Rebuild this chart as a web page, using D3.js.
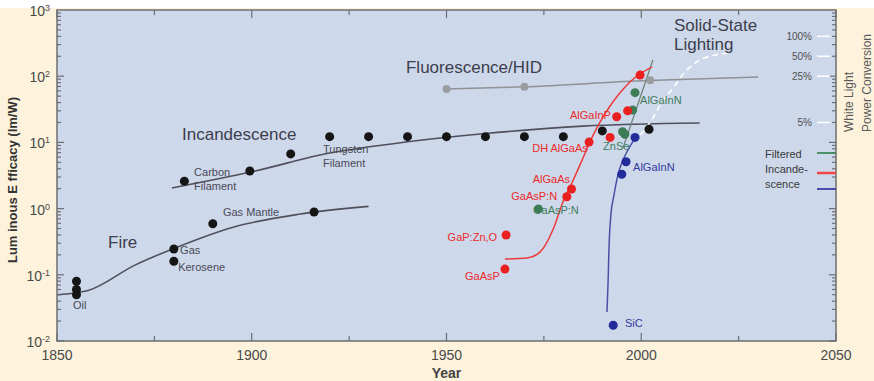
<!DOCTYPE html>
<html>
<head>
<meta charset="utf-8">
<script src="https://cdn.jsdelivr.net/npm/d3@7"></script>
<style>
body { margin: 0; background: #fdf3dc; }
svg { display: block; font-family: "Liberation Sans", Arial, sans-serif; }
</style>
</head>
<body>
<div class="render"></div>
<script>
"use strict";

var width = 874;
var height = 381;

// curves, [year, lm/W]
var fireCurve = [[1850, 0.050], [1858, 0.058], [1870, 0.14], [1880, 0.25], [1895, 0.52], [1912, 0.82], [1930, 1.08]];
var incandCurve = [[1879.5, 2.05], [1900, 3.6], [1920, 6.9], [1940, 10.2], [1960, 13.6], [1985, 17.6], [2015, 19.6]];
var fluorCurve = [[1950, 64], [1970, 69], [2000, 85], [2030, 97]];
var redCurve = [[1965, 0.173], [1970.7, 0.18], [1974, 0.22], [1977.3, 0.475], [1979.9, 1.26], [1982.2, 2.44], [1984.8, 5.4], [1986.8, 10.1], [1989.4, 20.3], [1992, 35.5], [1994.5, 55.7], [1997.1, 81.7], [1999.7, 108], [2002.8, 138]];
var blueCurve = [[1991.2, 0.0274], [1991.5, 0.083], [1991.7, 0.237], [1992.2, 0.80], [1993, 1.6], [1994, 3.2], [1995.3, 5.4], [1996.6, 7.7], [1998.4, 11.6]];
var greenCurve = [[1995.3, 8.2], [2003, 176]];
var whiteProjection = [[1999.7, 12.9], [2003, 23.4], [2005.6, 43.6], [2008.2, 66.4], [2011.2, 115.6], [2015.1, 176], [2019, 209], [2022.3, 224]];

// dots
var blackDots = [[1855, 0.08], [1855, 0.06], [1855, 0.05], [1880, 0.245], [1880, 0.16], [1890, 0.59], [1916, 0.89],
  [1882.7, 2.6], [1899.5, 3.7], [1910, 6.7], [1920, 12.2], [1930, 12.2], [1940, 12.2], [1950, 12.2], [1960, 12.2],
  [1970, 12.2], [1980, 12.2], [1990, 14.9], [2002, 15.8]];
var grayDots = [[1950, 64], [1970, 69], [2002.3, 87]];
var redDots = [[1965, 0.122], [1965.3, 0.40], [1980.9, 1.51], [1982.1, 1.98], [1986.6, 10.1], [1992, 11.9], [1993.7, 24.4], [1996.5, 30], [1999.7, 104]];
var greenDots = [[1973.6, 0.99], [1995.2, 14.5], [1995.8, 13.3], [1997.8, 30.8], [1998.4, 56.4]];
var blueDots = [[1992.8, 0.0173], [1995, 3.3], [1996.1, 5.1], [1998.4, 11.9]];

// era titles and small labels: [text, year, lm/W]
var eraTitles = [["Fire", 1863.1, 0.254], ["Incandescence", 1882.1, 10.9], ["Fluorescence/HID", 1939.6, 112], ["Solid-State", 2008.4, 482], ["Lighting", 2008.4, 249]];
var blackLabels = [["Oil", 1854.1, 0.0304], ["Gas", 1881.6, 0.206], ["Kerosene", 1881.1, 0.114], ["Gas Mantle", 1892.6, 0.773],
  ["Carbon", 1885.2, 3.10], ["Filament", 1885.2, 1.91], ["Tungsten", 1918.3, 6.92], ["Filament", 1918.3, 4.25]];
var redLabelsEnd = [["GaAsP", 1963.7, 0.0834], ["GaP:Zn,O", 1963.0, 0.324], ["GaAsP:N", 1978.4, 1.35], ["AlGaAs", 1981.7, 2.44]];
var redLabels = [["DH AlGaAs", 1972.0, 7.16], ["AlGaInP", 1981.7, 22.6]];
var greenLabels = [["GaAsP:N", 1972.2, 0.828], ["AlGaInN", 1999.7, 38.0], ["ZnSe", 1990.2, 7.67]];
var blueLabels = [["AlGaInN", 1997.9, 3.70], ["SiC", 1995.8, 0.0163]];

var yearTicks = [1850, 1900, 1950, 2000, 2050];
var decadeTicks = [0.01, 0.1, 1, 10, 100, 1000];
var decadeExp = ["-2", "-1", "0", "1", "2", "3"];
var percentTicks = [100, 50, 25, 5];
var legendNames = ["Filtered", "Incande-", "scence"];

var x = d3.scaleLinear().domain([1850, 2050]).range([57, 836]);
var y = d3.scaleLog().domain([0.01, 1000]).range([341, 10]);
// 25% power conversion sits at 100 lm/W
var yPct = d3.scaleLog().domain([0.0025, 250]).range([341, 10]);

var svg = d3.select('.render').append('svg').attr('width', width).attr('height', height);

svg.append('rect').attr('width', width).attr('height', height).attr('fill', '#fdf3dc');
svg.append('rect').attr('width', width).attr('height', 8).attr('fill', '#ffffff');
svg.append('rect').attr('x', x(1850)).attr('y', y(1000)).attr('width', x(2050) - x(1850)).attr('height', y(0.01) - y(1000)).attr('fill', '#cdd8eb');

var line = d3.line().x(function (d) { return x(d[0]); }).y(function (d) { return y(d[1]); }).curve(d3.curveMonotoneX);

function drawCurve(data, color, w, dash) {
   var p = svg.append('path').attr('d', line(data)).attr('fill', 'none').attr('stroke', color).attr('stroke-width', w);
   if (dash) p.attr('stroke-dasharray', dash);
}
drawCurve(fireCurve, '#50505c', 1.6);
drawCurve(incandCurve, '#50505c', 1.6);
drawCurve(fluorCurve, '#8f9196', 1.5);
drawCurve(greenCurve, '#6c8478', 1.3);
drawCurve(redCurve, '#ee3a3a', 1.5);
drawCurve(blueCurve, '#4a4fa6', 1.5);
drawCurve(whiteProjection, '#ffffff', 1.6, '6,4');

function drawDots(data, color, r) {
   svg.append('g').selectAll('circle').data(data).enter().append('circle')
      .attr('cx', function (d) { return x(d[0]); })
      .attr('cy', function (d) { return y(d[1]); })
      .attr('r', r).attr('fill', color);
}
drawDots(blackDots, '#151515', 4.5);
drawDots(grayDots, '#9b9c9f', 4);
drawDots(greenDots, '#3c7d55', 4.5);
drawDots(redDots, '#ea1f1f', 4.5);
drawDots(blueDots, '#232a9a', 4.5);

function drawLabels(data, color, size, anchor) {
   svg.append('g').selectAll('text').data(data).enter().append('text')
      .attr('x', function (d) { return x(d[1]); })
      .attr('y', function (d) { return y(d[2]); })
      .attr('text-anchor', anchor || 'start')
      .attr('font-size', size).attr('fill', color)
      .text(function (d) { return d[0]; });
}
drawLabels(eraTitles, '#3d3e4c', 17);
drawLabels(blackLabels, '#4a4a55', 11);
drawLabels(redLabelsEnd, '#ec2a2a', 11, 'end');
drawLabels(redLabels, '#ec2a2a', 11);
drawLabels(greenLabels, '#3f7d5c', 11);
drawLabels(blueLabels, '#343a9e', 11);

// frame
svg.append('rect').attr('x', x(1850)).attr('y', y(1000)).attr('width', x(2050) - x(1850)).attr('height', y(0.01) - y(1000))
   .attr('fill', 'none').attr('stroke', '#6e6e72').attr('stroke-width', 1.5);

var ticks = svg.append('g').attr('stroke', '#6e6e72').attr('stroke-width', 1.2);
d3.range(1850, 2051, 25).forEach(function (yr) {
   var len = yr % 50 === 0 ? 8 : 5;
   ticks.append('line').attr('x1', x(yr)).attr('x2', x(yr)).attr('y1', y(0.01)).attr('y2', y(0.01) - len);
   ticks.append('line').attr('x1', x(yr)).attr('x2', x(yr)).attr('y1', y(1000)).attr('y2', y(1000) + len);
});
decadeTicks.slice(0, 5).forEach(function (dv) {
   d3.range(1, 10).forEach(function (k) {
      var len = k === 1 ? 7 : 4;
      var v = dv * k;
      ticks.append('line').attr('x1', x(1850)).attr('x2', x(1850) + len).attr('y1', y(v)).attr('y2', y(v));
      ticks.append('line').attr('x1', x(2050)).attr('x2', x(2050) - len).attr('y1', y(v)).attr('y2', y(v));
   });
});

// bottom tick labels
svg.append('g').selectAll('text').data(yearTicks).enter().append('text')
   .attr('x', function (d) { return x(d); }).attr('y', 360)
   .attr('text-anchor', 'middle').attr('font-size', 14).attr('fill', '#4a4a4a')
   .text(function (d) { return d; });

// left tick labels
var yl = svg.append('g').selectAll('text').data(decadeTicks).enter().append('text')
   .attr('x', 50).attr('y', function (d) { return y(d) + 6; })
   .attr('text-anchor', 'end').attr('font-size', 14).attr('fill', '#4a4a4a');
yl.append('tspan').text('10');
yl.append('tspan').attr('dy', -5).attr('font-size', 9).text(function (d, i) { return decadeExp[i]; });

// right percent scale
svg.append('g').selectAll('line').data(percentTicks).enter().append('line')
   .attr('x1', 817).attr('x2', 830)
   .attr('y1', function (d) { return yPct(d); }).attr('y2', function (d) { return yPct(d); })
   .attr('stroke', '#ffffff').attr('stroke-width', 1.5);
svg.append('g').selectAll('text').data(percentTicks).enter().append('text')
   .attr('x', 812).attr('y', function (d) { return yPct(d) + 4; })
   .attr('text-anchor', 'end').attr('font-size', 10).attr('fill', '#505050')
   .text(function (d) { return d + '%'; });

// legend
var legendColors = ['#3f8a5a', '#ee4444', '#3a40a8'];
var legendY = [153, 173, 189];
var legendTextY = [158, 173, 188];
svg.append('g').selectAll('text').data(legendNames).enter().append('text')
   .attr('x', 765).attr('y', function (d, i) { return legendTextY[i]; })
   .attr('font-size', 11).attr('fill', '#3a3a3a').text(function (d) { return d; });
svg.append('g').selectAll('line').data(legendColors).enter().append('line')
   .attr('x1', 817).attr('x2', 836)
   .attr('y1', function (d, i) { return legendY[i]; }).attr('y2', function (d, i) { return legendY[i]; })
   .attr('stroke', function (d) { return d; }).attr('stroke-width', function (d, i) { return i === 1 ? 2.5 : 1.8; });

// axis titles
svg.append('text').attr('transform', 'translate(17,180) rotate(-90)').attr('text-anchor', 'middle')
   .attr('font-size', 13).attr('font-weight', 'bold').attr('fill', '#333')
   .text('Lum inous E fficacy (lm/W)');
svg.append('text').attr('x', x(1950)).attr('y', 378).attr('text-anchor', 'middle')
   .attr('font-size', 14).attr('font-weight', 'bold').attr('fill', '#444').text('Year');
svg.append('text').attr('transform', 'translate(853,132) rotate(-90)')
   .attr('font-size', 12).attr('fill', '#5a5a5a').text('White Light');
svg.append('text').attr('transform', 'translate(871,132) rotate(-90)')
   .attr('font-size', 12).attr('fill', '#5a5a5a').text('Power Conversion');
</script>
</body>
</html>
